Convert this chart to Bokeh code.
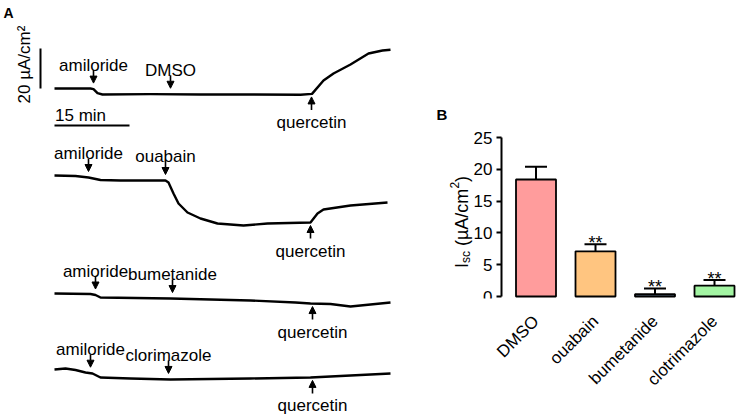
import numpy as np
from math import pi
from bokeh.plotting import figure
from bokeh.layouts import row
from bokeh.models import (Range1d, Label, Arrow, NormalHead, FixedTicker,
                          ColumnDataSource, Whisker, TeeHead)
from bokeh.embed import file_html
from bokeh.resources import INLINE
from bokeh.core.properties import value

FONT = "Liberation Sans"

# ---------------- Panel A data: time (min), change of Isc (uA/cm2) from start
t_dmso = [0, 7.2, 7.8, 8.6, 9.6, 19.2, 29.2, 39.2, 49.2, 51.5, 53.8, 55.8, 59.2, 62.8, 65.6, 67.2]
i_dmso = [0, 0, -0.3, -2.3, -3.0, -2.8, -3.0, -3.0, -3.1, -2.7, 4.0, 7.5, 12.0, 17.5, 19.0, 19.4]

t_ouab = [0, 4.2, 6.8, 9.2, 13.2, 22.2, 22.8, 23.8, 24.8, 26.6, 29.2, 32.6, 37.8, 42.6, 51.2, 52.6, 53.8, 59.2, 66.6]
i_ouab = [0, -0.25, -1.0, -2.25, -2.5, -2.5, -3.5, -9.0, -14.0, -18.5, -21.5, -24.0, -25.0, -24.0, -23.5, -19.0, -17.0, -15.0, -13.5]

t_bume = [0, 7.2, 8.2, 9.2, 23.2, 39.2, 48.2, 51.2, 55.2, 59.2, 63.2, 67.2]
i_bume = [0, -0.25, -0.75, -2.0, -2.5, -3.5, -4.5, -5.0, -5.25, -6.5, -5.5, -4.5]

t_clot = [0, 2.2, 4.2, 6.2, 7.6, 9.2, 15.2, 23.2, 39.2, 51.2, 55.2, 67.2]
i_clot = [0, 0.5, -0.25, -1.5, -2.0, -4.0, -4.5, -5.0, -4.5, -4.0, -3.5, -2.0]

# events (label, time in min, arrow direction)
ev_dmso = [("amiloride", 7.8, "down"), ("DMSO", 23.2, "down"), ("quercetin", 51.4, "up")]
ev_ouab = [("amiloride", 6.8, "down"), ("ouabain", 22.2, "down"), ("quercetin", 51.2, "up")]
ev_bume = [("amioride", 8.2, "down"), ("bumetanide", 23.6, "down"), ("quercetin", 51.6, "up")]
ev_clot = [("amiloride", 7.2, "down"), ("clorimazole", 22.8, "down"), ("quercetin", 51.6, "up")]

scale_current = 20   # uA/cm2
scale_time = 15      # min

# ---------------- Panel B data
cats = ["DMSO", "ouabain", "bumetanide", "clotrimazole"]
means = [18.4, 7.1, 0.35, 1.7]
sems = [2.0, 1.1, 0.9, 0.9]
sig = ["", "**", "**", "**"]
colors = ["#FF9C9C", "#FFC580", "#9DC3E6", "#A3F5A3"]
yticks = [0, 5, 10, 15, 20, 25]

W_A = 395
W_B = 739 - W_A
H = 419

# =============== Panel A layout ===============
def ax(px):
    return (px - 54) / 5.0

def ay(py):
    return (H - py) / 2.0

pa = figure(width=W_A, height=H, x_range=Range1d(ax(0), ax(W_A)),
            y_range=Range1d(ay(H), ay(0)), x_axis_type=None, y_axis_type=None,
            toolbar_location=None, output_backend="svg", min_border=0)
pa.grid.visible = False
pa.outline_line_color = None
pa.frame_align = False

offsets = [ay(88), ay(175), ay(293), ay(369)]
traces = [(t_dmso, i_dmso), (t_ouab, i_ouab), (t_bume, i_bume), (t_clot, i_clot)]
events = [ev_dmso, ev_ouab, ev_bume, ev_clot]

arr = dict(xs=[], ys=[], xe=[], ye=[])
dl = dict(x=[], y=[], text=[])
ul = dict(x=[], y=[], text=[])
for (tt, ii), off, evs in zip(traces, offsets, events):
    yy = np.array(ii) + off
    pa.line(tt, yy, line_color="black", line_width=2.4, line_join="round")
    for name, te, d in evs:
        yv = float(np.interp(te, tt, yy))
        if d == "down":
            tip = yv + 3.0
            top = tip + 6.5
            arr["xs"].append(te); arr["ys"].append(top)
            arr["xe"].append(te); arr["ye"].append(tip)
            dl["x"].append(te); dl["y"].append(top + 2.5); dl["text"].append(name)
        else:
            tip = yv - 1.5
            bot = tip - 6.5
            arr["xs"].append(te); arr["ys"].append(bot)
            arr["xe"].append(te); arr["ye"].append(tip)
            ul["x"].append(te); ul["y"].append(bot - 1.5); ul["text"].append(name)

pa.add_layout(Arrow(end=NormalHead(size=7, fill_color="black", line_color="black", line_width=1),
                    x_start="xs", y_start="ys", x_end="xe", y_end="ye",
                    line_width=1.6, line_color="black", source=ColumnDataSource(arr)))
pa.text(x="x", y="y", text="text", source=ColumnDataSource(dl),
        text_font=value(FONT), text_font_size="17px", text_align="center",
        text_baseline="alphabetic", text_color="black")
pa.text(x="x", y="y", text="text", source=ColumnDataSource(ul),
        text_font=value(FONT), text_font_size="17px", text_align="center",
        text_baseline="top", text_color="black")

# scale bars
pa.line([ax(40), ax(40)], [offsets[0], offsets[0] + scale_current], line_color="black", line_width=2)
pa.line([0, scale_time], [ay(125), ay(125)], line_color="black", line_width=2)
pa.add_layout(Label(x=0.1, y=ay(115), text="%d min" % scale_time, text_font=FONT,
                    text_font_size="17px", text_align="left", text_baseline="alphabetic",
                    text_color="black"))
pa.add_layout(Label(x=ax(24), y=ay(64), text="%d µA/cm²" % scale_current, text_font=FONT,
                    text_font_size="17px", text_align="center", text_baseline="middle",
                    angle=pi / 2, text_color="black"))
pa.add_layout(Label(x=ax(3), y=ay(4), text="A", text_font=FONT, text_font_style="bold",
                    text_font_size="14px", text_align="left", text_baseline="top",
                    text_color="black"))

# =============== Panel B layout ===============
PXU = 59.5                 # px per category
PYU = 159 / 25.0           # px per uA/cm2
BL = 40                    # left border of panel B
F0 = W_A + BL              # page x of frame left

def bx(px):
    return (px - 535.5) / PXU

def by(py):
    return (296 - py) / PYU

pb = figure(width=W_B, height=H, x_range=Range1d(bx(F0), bx(739)),
            y_range=Range1d(by(298), by(0)), toolbar_location=None,
            output_backend="svg", min_border_left=BL, min_border_right=0,
            min_border_top=0, min_border_bottom=H - 298)
pb.grid.visible = False
pb.outline_line_color = None
pb.frame_align = False

xs = list(range(len(cats)))
src = ColumnDataSource(dict(x=xs, top=means, color=colors,
                            upper=[m + s for m, s in zip(means, sems)],
                            lower=means,
                            sy=[m + s + 0.2 for m, s in zip(means, sems)], sig=sig))
pb.vbar(x="x", top="top", bottom=0, width=40 / PXU, fill_color="color",
        line_color="black", line_width=1.8, source=src)
pb.add_layout(Whisker(source=src, base="x", upper="upper", lower="lower",
                      upper_head=TeeHead(size=22, line_width=2, line_color="black"),
                      lower_head=None, line_width=2, line_color="black"))
pb.text(x="x", y="sy", text="sig", source=src, text_font=value(FONT),
        text_font_size="18px", text_align="center", text_baseline="alphabetic",
        text_color="black")

yaxis = pb.yaxis[0]
yaxis.fixed_location = bx(501)
yaxis.ticker = FixedTicker(ticks=yticks)
yaxis.bounds = (0, 25)
yaxis.axis_line_width = 2
yaxis.axis_line_color = "black"
yaxis.major_tick_line_width = 2
yaxis.major_tick_line_color = "black"
yaxis.major_tick_out = 5
yaxis.major_tick_in = 0
yaxis.minor_tick_line_color = None
yaxis.major_label_standoff = 4
yaxis.major_label_text_font = FONT
yaxis.major_label_text_font_size = "17px"
yaxis.major_label_text_color = "black"

xaxis = pb.xaxis[0]
xaxis.ticker = FixedTicker(ticks=xs)
xaxis.major_label_overrides = {i: c for i, c in enumerate(cats)}
xaxis.major_label_orientation = pi / 4
xaxis.axis_line_color = None
xaxis.major_tick_line_color = None
xaxis.minor_tick_line_color = None
xaxis.major_label_standoff = 14
xaxis.major_label_text_font = FONT
xaxis.major_label_text_font_size = "17px"
xaxis.major_label_text_color = "black"

# y axis title: I_sc (uA/cm^2), built from pieces (advance given in px)
base_x = bx(461)
y0 = by(267.5)
pieces = [("I", 18, 0, 5.0), ("sc", 12, 4, 17.0), ("(µA/cm", 18, 0, 57.4),
          ("2", 12, -7, 6.7), (")", 18, 0, 6.0)]
ycur = y0
for txt, fs, shift, adv in pieces:
    pb.add_layout(Label(x=base_x + shift / PXU, y=ycur, text=txt, text_font=FONT,
                        text_font_size="%dpx" % fs, text_align="left",
                        text_baseline="alphabetic", angle=pi / 2, text_color="black"))
    ycur += adv / PYU
pb.add_layout(Label(x=bx(436), y=by(105), text="B", text_font=FONT, text_font_style="bold",
                    text_font_size="15px", text_align="left", text_baseline="top",
                    text_color="black"))

layout = row(pa, pb)
open("out.html", "w").write(file_html(layout, INLINE))
